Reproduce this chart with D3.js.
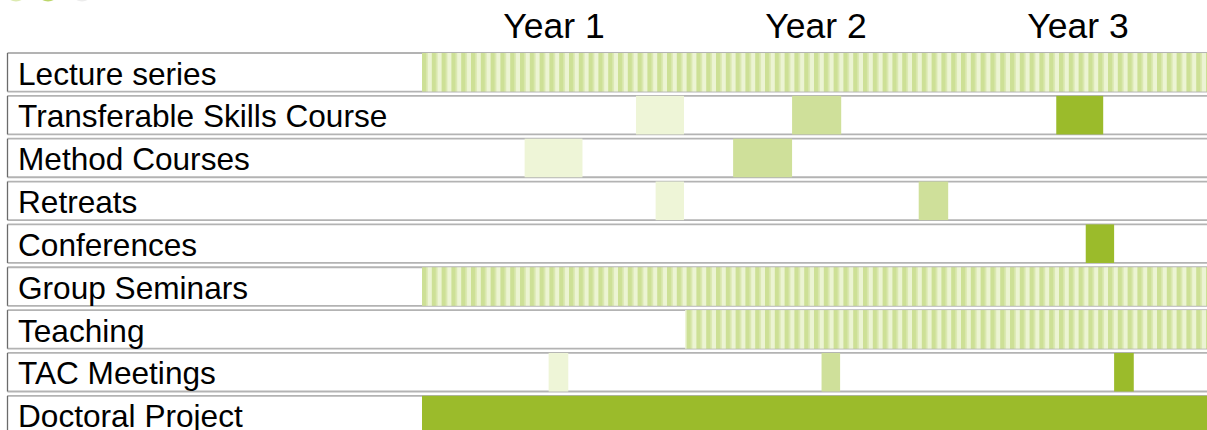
<!DOCTYPE html>
<html>
<head>
<meta charset="utf-8">
<script src="https://cdn.jsdelivr.net/npm/d3@7/dist/d3.min.js"></script>
<style>
  body { margin: 0; background: #fff; overflow: hidden; }
  svg { display: block; font-family: "Liberation Sans", Arial, sans-serif; }
</style>
</head>
<body>
<div id="chart"></div>
<script>
// Programme activities (rows, top to bottom)
const tasks = [
    "Lecture series",
    "Transferable Skills Course",
    "Method Courses",
    "Retreats",
    "Conferences",
    "Group Seminars",
    "Teaching",
    "TAC Meetings",
    "Doctoral Project"
];

// Column headers, one per year (36 months in total)
const years = ["Year 1", "Year 2", "Year 3"];
const totalMonths = 36;

// Activity blocks: start / end in months, kind = shading level
const blocks = [
    { task: "Lecture series", start: 0, end: 36, kind: "ongoing" },
    { task: "Transferable Skills Course", start: 9.8, end: 12, kind: "y1" },
    { task: "Transferable Skills Course", start: 16.95, end: 19.2, kind: "y2" },
    { task: "Transferable Skills Course", start: 29.05, end: 31.2, kind: "y3" },
    { task: "Method Courses", start: 4.7, end: 7.35, kind: "y1" },
    { task: "Method Courses", start: 14.25, end: 16.95, kind: "y2" },
    { task: "Retreats", start: 10.7, end: 12, kind: "y1" },
    { task: "Retreats", start: 22.75, end: 24.1, kind: "y2" },
    { task: "Conferences", start: 30.4, end: 31.7, kind: "y3" },
    { task: "Group Seminars", start: 0, end: 36, kind: "ongoing" },
    { task: "Teaching", start: 12.05, end: 36, kind: "ongoing" },
    { task: "TAC Meetings", start: 5.8, end: 6.7, kind: "y1" },
    { task: "TAC Meetings", start: 18.3, end: 19.15, kind: "y2" },
    { task: "TAC Meetings", start: 31.7, end: 32.6, kind: "y3" },
    { task: "Doctoral Project", start: 0, end: 36, kind: "full" }
];

function drawChart() {
    const width = 1207;
    const height = 430;

    const svg = d3.select("#chart")
        .append("svg")
        .attr("width", width)
        .attr("height", height);

    const fills = {
        y1: "#eef5d7",
        y2: "#cfe09a",
        y3: "#9bbb2b",
        full: "#9bbb2b",
        ongoing: "url(#stripes)"
    };

    // vertical stripe pattern for ongoing activities
    const pat = svg.append("defs").append("pattern")
        .attr("id", "stripes")
        .attr("patternUnits", "userSpaceOnUse")
        .attr("x", 422)
        .attr("width", 9.8)
        .attr("height", 10);
    pat.append("rect").attr("width", 9.8).attr("height", 10).attr("fill", "#ecf4d3");
    pat.append("rect").attr("width", 4.6).attr("height", 10).attr("fill", "#cde096");
    pat.append("rect").attr("x", 4.6).attr("width", 1.2).attr("height", 10).attr("fill", "#dce9b3");

    // faint cut-off logo at the very top
    svg.append("g").selectAll("ellipse")
        .data([[16, "#dceab0"], [48, "#bcd66a"], [82, "#ececec"]])
        .join("ellipse")
        .attr("cx", d => d[0])
        .attr("cy", -7)
        .attr("rx", 10)
        .attr("ry", 8.5)
        .attr("fill", d => d[1]);

    const x = d3.scaleLinear()
        .domain([0, totalMonths])
        .range([422, 1208]);

    const step = 42.85;
    const y = d3.scaleBand()
        .domain(tasks)
        .range([53, 53 + (tasks.length - 0.1) * step])
        .paddingInner(0.1)
        .paddingOuter(0);

    const yearX = d3.scaleBand()
        .domain(years)
        .range(x.range());

    // Year headers
    svg.append("g").selectAll("text")
        .data(years)
        .join("text")
        .attr("x", d => yearX(d) + yearX.bandwidth() / 2 + 1)
        .attr("y", 38)
        .attr("text-anchor", "middle")
        .attr("font-size", 35.5)
        .attr("fill", "#000")
        .text(d => d);

    // Row boxes
    const rows = svg.append("g").selectAll("g")
        .data(tasks)
        .join("g")
        .attr("transform", d => `translate(0,${y(d)})`);

    rows.append("rect")
        .attr("x", 7.5)
        .attr("width", width + 20)
        .attr("height", y.bandwidth())
        .attr("fill", "#fff");

    // Activity blocks
    svg.append("g").selectAll("rect")
        .data(blocks)
        .join("rect")
        .attr("x", d => x(d.start))
        .attr("y", d => y(d.task))
        .attr("width", d => x(d.end) - x(d.start))
        .attr("height", d => d.task === "Doctoral Project" ? 60 : y.bandwidth())
        .attr("fill", d => fills[d.kind]);

    // Borders
    rows.append("line")
        .attr("x1", 7.5).attr("x2", width + 20)
        .attr("y1", 0).attr("y2", 0)
        .attr("stroke", "#b3b3b3")
        .attr("stroke-width", 1.8);

    rows.filter(d => d !== "Doctoral Project").append("line")
        .attr("x1", 7.5).attr("x2", width + 20)
        .attr("y1", y.bandwidth()).attr("y2", y.bandwidth())
        .attr("stroke", "#b3b3b3")
        .attr("stroke-width", 1.8);

    rows.append("line")
        .attr("x1", 7.5).attr("x2", 7.5)
        .attr("y1", 0).attr("y2", d => d === "Doctoral Project" ? 60 : y.bandwidth())
        .attr("stroke", "#6b6b6b")
        .attr("stroke-width", 1.3);

    // Row labels
    rows.append("text")
        .attr("x", 18)
        .attr("y", 31.5)
        .attr("font-size", 31.6)
        .attr("fill", "#000")
        .text(d => d);
}

drawChart();
</script>
</body>
</html>
